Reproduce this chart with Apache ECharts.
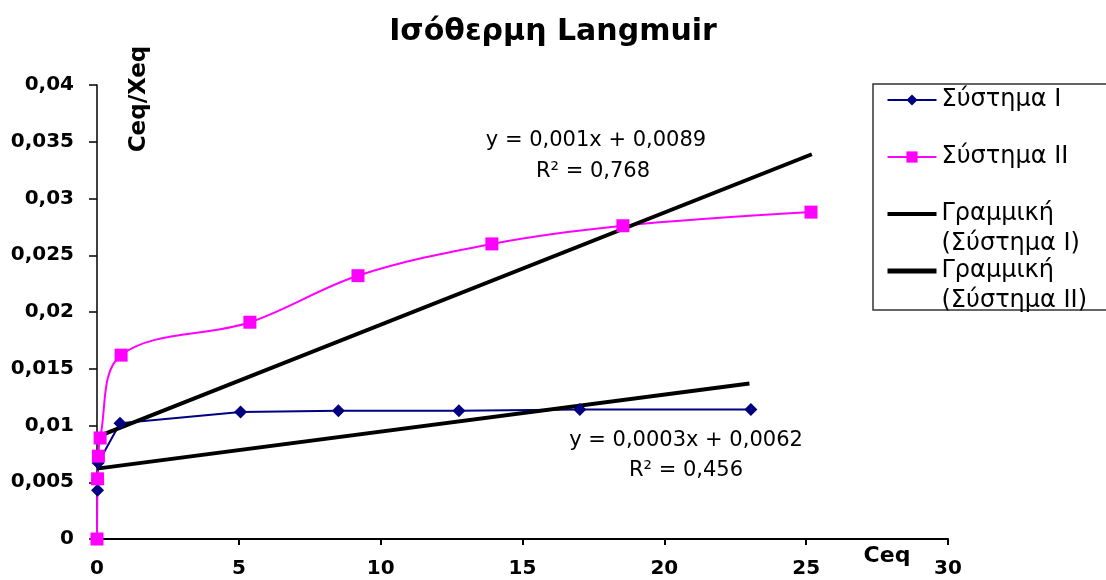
<!DOCTYPE html>
<html>
<head>
<meta charset="utf-8">
<script src="https://cdn.jsdelivr.net/npm/echarts@6/dist/echarts.min.js"></script>
<style>html,body{margin:0;padding:0;background:#fff}#c{width:1106px;height:580px}</style>
</head>
<body>
<div id="c"></div>
<script>
// ---- data ----
const titleText = 'Ισόθερμη Langmuir';
const xAxisName = 'Ceq';
const yAxisName = 'Ceq/Xeq';
const seriesNames = ['Σύστημα Ι', 'Σύστημα ΙΙ', 'Γραμμική (Σύστημα Ι)', 'Γραμμική (Σύστημα ΙΙ)'];

const sys1X = [0.02, 0.04, 0.81, 5.06, 8.51, 12.76, 17.02, 23.05];
const sys1Y = [0.0043, 0.0067, 0.0102, 0.0112, 0.0113, 0.0113, 0.0114, 0.0114];

const sys2X = [0, 0.02, 0.05, 0.11, 0.85, 5.39, 9.2, 13.92, 18.54, 25.17];
const sys2Y = [0, 0.0053, 0.0073, 0.0089, 0.0162, 0.0191, 0.0232, 0.0260, 0.0276, 0.0288];

const trend1X = [0, 23.0];
const trend1Y = [0.0062, 0.0137];
const trend2X = [0, 25.2];
const trend2Y = [0.0090, 0.0339];

const xTickLabels = ['0', '5', '10', '15', '20', '25', '30'];
const yTickLabels = ['0', '0,005', '0,01', '0,015', '0,02', '0,025', '0,03', '0,035', '0,04'];

const eq1Lines = ['y = 0,001x + 0,0089', 'R² = 0,768'];
const eq2Lines = ['y = 0,0003x + 0,0062', 'R² = 0,456'];

// ---- build ----
const zip = (xs, ys) => xs.map((x, i) => [x, ys[i]]);
const FONT = 'DejaVu Sans';
const legendLineWidths = [2, 2, 4, 5];

const chart = echarts.init(document.getElementById('c'), null, {renderer: 'canvas'});
const option = {
  animation: false,
  backgroundColor: '#fff',
  title: {
    text: titleText, left: 'center', top: 12,
    textStyle: {fontFamily: FONT, fontWeight: 'bold', fontSize: 30, color: '#000'}
  },
  grid: {left: 97, right: 158, top: 85, bottom: 41, containLabel: false, outerBoundsMode: 'none'},
  legend: {
    orient: 'vertical', left: 885, top: 55, padding: 0, itemGap: -33,
    itemWidth: 49, itemHeight: 14, selectedMode: false,
    data: seriesNames.map((n, i) => ({name: n, lineStyle: {width: legendLineWidths[i]}})),
    formatter: n => ' \n' + (n.indexOf(' (') > 0 ? n.replace(' (', '\n(') : n + '\n '),
    textStyle: {fontFamily: FONT, fontSize: 24, color: '#000', lineHeight: 30}
  },
  xAxis: {
    type: 'value', min: 0, max: 30, interval: 5,
    axisLine: {show: true, lineStyle: {color: '#000', width: 2}},
    axisTick: {show: true, length: 6, lineStyle: {color: '#000', width: 2}},
    splitLine: {show: false},
    axisLabel: {
      margin: 20, color: '#000', fontFamily: FONT, fontWeight: 'bold', fontSize: 20,
      formatter: v => xTickLabels[Math.round(v / 5)]
    }
  },
  yAxis: {
    type: 'value', min: 0, max: 0.04, interval: 0.005,
    axisLine: {show: true, lineStyle: {color: '#000', width: 1.5}},
    axisTick: {show: true, length: 8, lineStyle: {color: '#000', width: 1.5}},
    splitLine: {show: false},
    axisLabel: {
      margin: 23, color: '#000', fontFamily: FONT, fontWeight: 'bold', fontSize: 20,
      formatter: v => yTickLabels[Math.round(v / 0.005)]
    }
  },
  series: [
    {
      name: seriesNames[0], type: 'line', data: zip(sys1X, sys1Y), clip: false,
      symbol: 'diamond', symbolSize: 13,
      itemStyle: {color: '#000080'}, lineStyle: {color: '#000080', width: 2}
    },
    {
      name: seriesNames[1], type: 'line', data: zip(sys2X, sys2Y), clip: false, smooth: 0.35,
      symbol: 'rect', symbolSize: 13,
      itemStyle: {color: '#ff00ff'}, lineStyle: {color: '#ff00ff', width: 2}
    },
    {
      name: seriesNames[2], type: 'line', data: zip(trend1X, trend1Y), clip: false,
      symbol: 'none', itemStyle: {color: 'rgba(0,0,0,0)'}, lineStyle: {color: '#000', width: 4}
    },
    {
      name: seriesNames[3], type: 'line', data: zip(trend2X, trend2Y), clip: false,
      symbol: 'none', itemStyle: {color: 'rgba(0,0,0,0)'}, lineStyle: {color: '#000', width: 4}
    }
  ],
  graphic: [
    {type: 'rect', shape: {x: 873, y: 84, width: 300, height: 226},
     style: {fill: 'none', stroke: '#333', lineWidth: 1.5}, silent: true},
    {type: 'text', x: 139, y: 99, rotation: Math.PI / 2,
     style: {text: yAxisName, fill: '#000', font: 'bold 23px "DejaVu Sans"', align: 'center', verticalAlign: 'middle'}},
    {type: 'text', x: 887, y: 556,
     style: {text: xAxisName, fill: '#000', font: 'bold 22px "DejaVu Sans"', align: 'center', verticalAlign: 'middle'}},
    {type: 'text', x: 596, y: 141,
     style: {text: eq1Lines[0], fill: '#000', font: '21px "DejaVu Sans"', align: 'center', verticalAlign: 'middle'}},
    {type: 'text', x: 593, y: 172,
     style: {text: eq1Lines[1], fill: '#000', font: '21px "DejaVu Sans"', align: 'center', verticalAlign: 'middle'}},
    {type: 'text', x: 686, y: 441,
     style: {text: eq2Lines[0], fill: '#000', font: '21px "DejaVu Sans"', align: 'center', verticalAlign: 'middle'}},
    {type: 'text', x: 686, y: 471,
     style: {text: eq2Lines[1], fill: '#000', font: '21px "DejaVu Sans"', align: 'center', verticalAlign: 'middle'}}
  ]
};
chart.setOption(option);
</script>
</body>
</html>
